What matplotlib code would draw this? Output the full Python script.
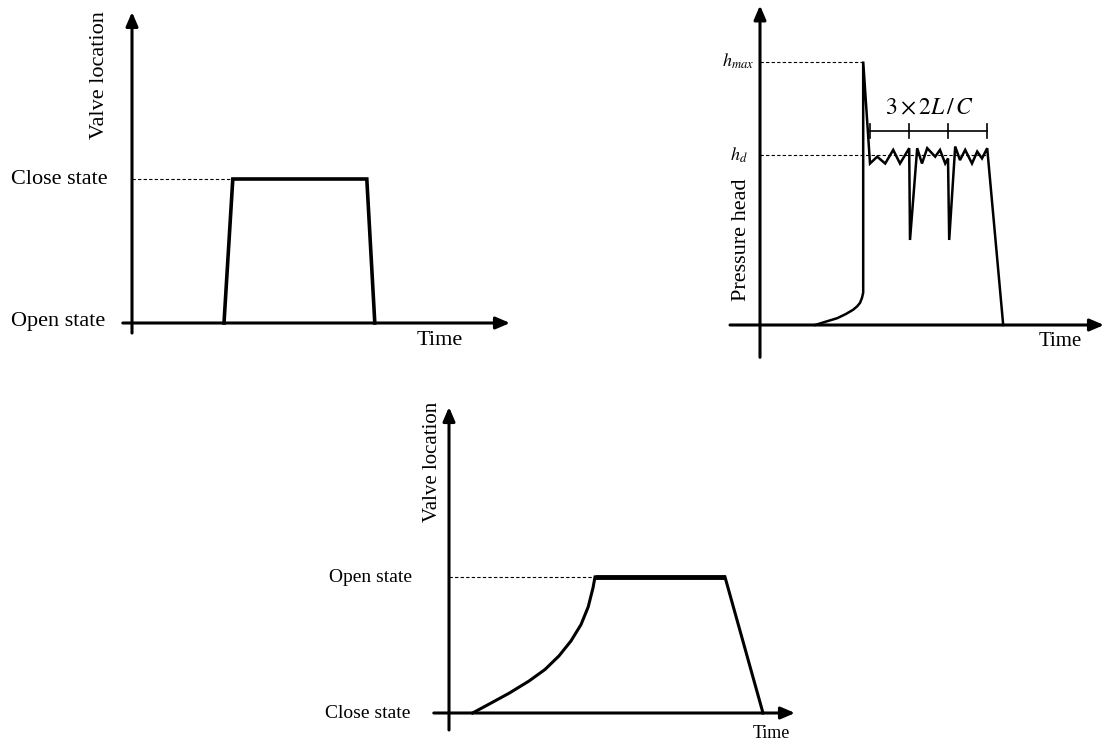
import matplotlib.pyplot as plt
from matplotlib.patches import FancyArrowPatch

plt.rcParams['font.family'] = ['Liberation Serif', 'DejaVu Serif']
plt.rcParams['mathtext.fontset'] = 'stix'

W, H = 1108, 742

# panel 1: valve closing (time in arbitrary units, valve position 0..1)
close_t = [2.3, 2.52, 5.87, 6.07]
close_v = [0, 1, 1, 0]

# panel 2: pressure head response (head relative to hd)
head_t = [1.38, 1.65, 1.93, 2.15, 2.33, 2.43, 2.5, 2.55, 2.58, 2.58, 2.58,
          2.75, 2.93, 3.13, 3.33, 3.5, 3.73,
          3.75, 3.93, 4.05, 4.18, 4.38, 4.5, 4.63, 4.7,
          4.73, 4.88, 5.0, 5.13, 5.3, 5.43, 5.55, 5.68, 6.08]
head_v = [0, 0.02, 0.04, 0.065, 0.09, 0.11, 0.13, 0.16, 0.19, 0.44, 1.55,
          0.95, 0.99, 0.95, 1.03, 0.95, 1.04,
          0.5, 1.04, 0.95, 1.04, 0.99, 1.03, 0.95, 0.98,
          0.5, 1.05, 0.97, 1.03, 0.95, 1.02, 0.98, 1.04, 0]
hmax = 1.55
period_marks = [2.75, 3.73, 4.7, 5.68]

# panel 3: valve opening
open_t = [0.59, 1.0, 1.5, 2.0, 2.4, 2.75, 3.05, 3.3, 3.48, 3.6, 3.65, 6.9, 7.85]
open_v = [0, 0.065, 0.145, 0.235, 0.32, 0.42, 0.53, 0.65, 0.78, 0.92, 1.0, 1.0, 0]
n_rise = 11

fig = plt.figure(figsize=(W / 100, H / 100), dpi=100)


def panel(ox, oy, sx, sy, left, right, top, bottom):
    # axes whose data origin sits at pixel (ox, oy)
    ax = fig.add_axes([left / W, 1 - bottom / H, (right - left) / W, (bottom - top) / H])
    ax.set_xlim((left - ox) / sx, (right - ox) / sx)
    ax.set_ylim((oy - bottom) / sy, (oy - top) / sy)
    ax.axis('off')
    return ax


def arrows(ax, x0, x1, y0, y1):
    kw = dict(arrowstyle='-|>,head_length=0.7,head_width=0.3', color='black',
              lw=2.2, mutation_scale=12, shrinkA=0, shrinkB=0)
    ax.add_patch(FancyArrowPatch((x0, 0), (x1, 0), **kw))
    ax.add_patch(FancyArrowPatch((0, y0), (0, y1), **kw))


# ---- top left ----
ax1 = panel(132, 323, 40, 144, 0, 560, 0, 370)
arrows(ax1, -0.23, 9.45, -0.07, 2.16)
ax1.plot(close_t, close_v, color='black', lw=2.6, solid_joinstyle='miter')
ax1.plot([0, close_t[1]], [1, 1], color='black', lw=0.8, ls=(0, (3, 2)))
ax1.text(-0.6, 1, 'Close state', fontsize=16, ha='right', va='center')
ax1.text(-0.68, 0.01, 'Open state', fontsize=16, ha='right', va='center')
ax1.text(-0.8, 1.72, 'Valve location', fontsize=16, rotation=90, ha='center', va='center')
ax1.text(7.68, -0.12, 'Time', fontsize=16, ha='center', va='center')

# ---- top right ----
ax2 = panel(760, 325, 40, 170, 690, 1108, 0, 370)
arrows(ax2, -0.75, 8.6, -0.19, 1.88)
ax2.plot(head_t, head_v, color='black', lw=1.8, solid_joinstyle='miter')
ax2.plot([0, head_t[10]], [hmax, hmax], color='black', lw=0.8, ls=(0, (3, 2)))
ax2.plot([0, period_marks[-1]], [1, 1], color='black', lw=0.8, ls=(0, (3, 2)))
ax2.plot([period_marks[0], period_marks[-1]], [1.14, 1.14], color='black', lw=1.2)
for m in period_marks:
    ax2.plot([m, m], [1.1, 1.18], color='black', lw=1.2)
ax2.text(4.23, 1.27, r'$3\times 2L\,/\,C$', fontsize=17, ha='center', va='center')
ax2.text(-0.15, hmax, r'$h_{max}$', fontsize=13, ha='right', va='center')
ax2.text(-0.3, 1.0, r'$h_d$', fontsize=13, ha='right', va='center')
ax2.text(-0.45, 0.5, 'Pressure head', fontsize=16, rotation=90, ha='center', va='center')
ax2.text(7.5, -0.1, 'Time', fontsize=15, ha='center', va='center')

# ---- bottom ----
ax3 = panel(449, 713, 40, 136, 300, 830, 380, 742)
arrows(ax3, -0.38, 8.65, -0.125, 2.25)
ax3.plot(open_t[:n_rise], open_v[:n_rise], color='black', lw=2.2)
ax3.plot(open_t[n_rise - 1:n_rise + 1], open_v[n_rise - 1:n_rise + 1], color='black', lw=3.5,
         solid_capstyle='butt')
ax3.plot(open_t[n_rise:], open_v[n_rise:], color='black', lw=2.2)
ax3.plot([0, open_t[n_rise - 1]], [1, 1], color='black', lw=0.8, ls=(0, (3, 2)))
ax3.text(-0.92, 1, 'Open state', fontsize=14, ha='right', va='center')
ax3.text(-0.97, 0, 'Close state', fontsize=14, ha='right', va='center')
ax3.text(-0.42, 1.85, 'Valve location', fontsize=15, rotation=90, ha='center', va='center')
ax3.text(8.05, -0.15, 'Time', fontsize=13, ha='center', va='center')

fig.savefig('out.png', dpi=100)
